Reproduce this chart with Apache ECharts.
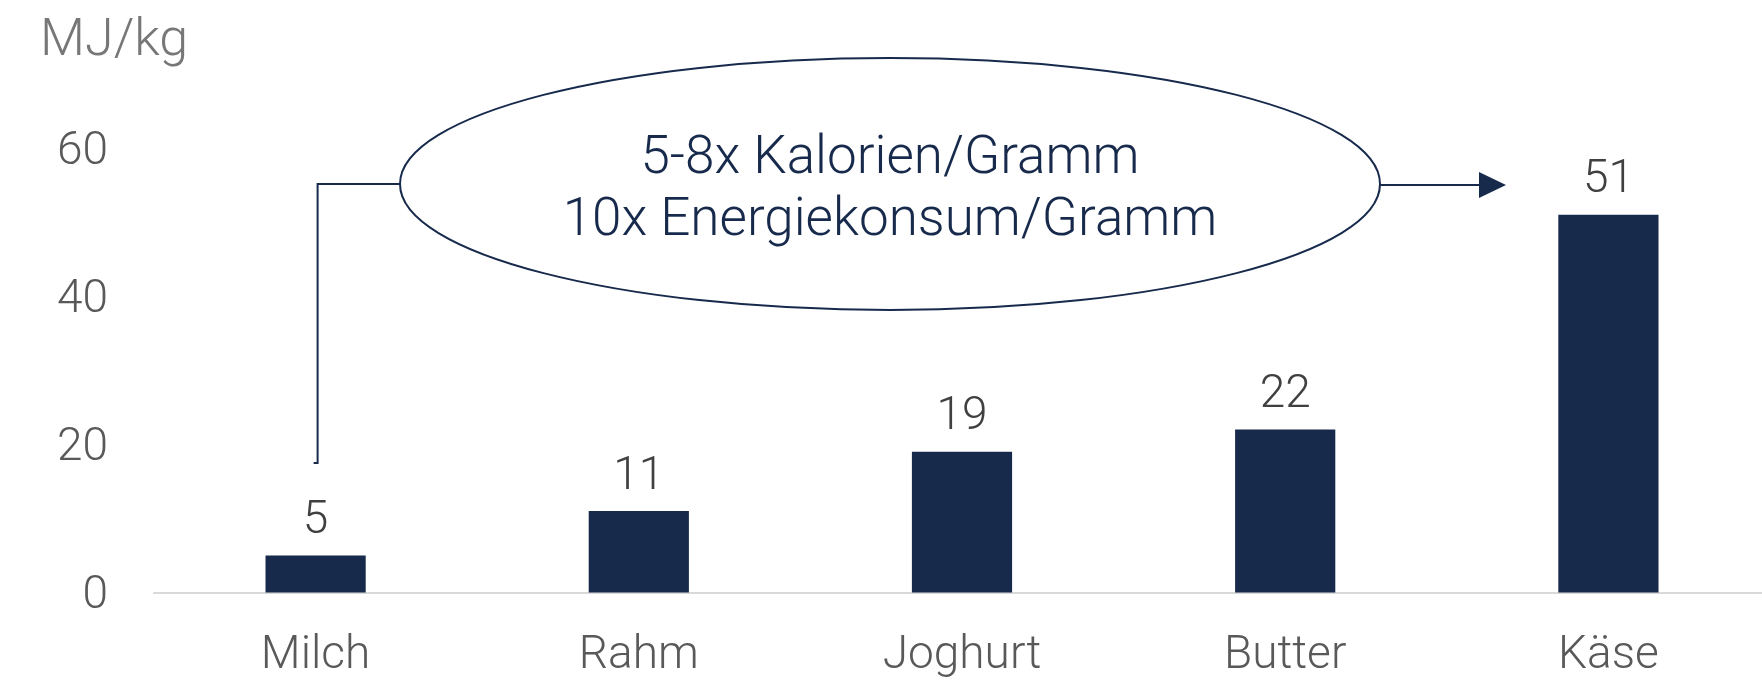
<!DOCTYPE html>
<html>
<head>
<meta charset="utf-8">
<script src="https://cdn.jsdelivr.net/npm/echarts@6/dist/echarts.min.js"></script>
<style>
  html, body { margin: 0; padding: 0; background: #fff; overflow: hidden; }
  #chart { width: 1770px; height: 681px; }
</style>
</head>
<body>
<div id="chart"></div>
<script>
// Energieverbrauch pro kg Milchprodukt
var categories = ['Milch', 'Rahm', 'Joghurt', 'Butter', 'Käse'];
var values = [5, 11, 19, 22, 51];
var yTicks = [0, 20, 40, 60];
var unitLabel = 'MJ/kg';
var noteLines = ['5-8x Kalorien/Gramm', '10x Energiekonsum/Gramm'];

var navy = '#172a4c';
var font = 'Roboto';

var myChart = echarts.init(document.getElementById('chart'));

var option = {
    animation: false,
    grid: { left: 154, right: 0, top: 148, bottom: 88.5 },
    xAxis: {
        type: 'category',
        data: categories,
        axisTick: { show: false },
        axisLine: { lineStyle: { color: '#d9d9d9', width: 2 } },
        axisLabel: { color: '#595959', fontSize: 46, fontFamily: font, fontWeight: 300, margin: 41 }
    },
    yAxis: {
        type: 'value',
        min: yTicks[0],
        max: yTicks[yTicks.length - 1],
        interval: 20,
        splitLine: { show: false },
        axisLine: { show: false },
        axisTick: { show: false },
        axisLabel: {
            margin: 46,
            formatter: '{v|{value}}',
            rich: {
                v: { color: '#595959', fontSize: 46, fontFamily: font, fontWeight: 300,
                     padding: [8, 0, 0, 0] }
            }
        }
    },
    series: [{
        type: 'bar',
        data: values,
        barWidth: '31%',
        itemStyle: { color: navy },
        label: {
            show: true,
            position: 'top',
            distance: 11,
            color: '#404040',
            fontSize: 46,
            fontFamily: font,
            fontWeight: 300
        }
    }]
};
myChart.setOption(option);

// annotation: ellipse with connector from Milch and arrow to Käse
var milchX = myChart.convertToPixel({ xAxisIndex: 0 }, categories[0]) + 2;
var ex = 890, ey = 184, rx = 490, ry = 126;
myChart.setOption({
    graphic: [
        {
            type: 'text', left: 40, top: 16,
            style: { text: unitLabel, fill: '#777777', fontSize: 52, fontFamily: font, fontWeight: 300 }
        },
        {
            type: 'ellipse',
            shape: { cx: ex, cy: ey, rx: rx, ry: ry },
            style: { fill: 'none', stroke: navy, lineWidth: 2 }
        },
        {
            type: 'text', x: ex, y: ey - 24,
            style: { text: noteLines[0], fill: navy, fontSize: 53, fontFamily: font, fontWeight: 300,
                     textAlign: 'center', textVerticalAlign: 'middle' }
        },
        {
            type: 'text', x: ex, y: ey + 38,
            style: { text: noteLines[1], fill: navy, fontSize: 53, fontFamily: font, fontWeight: 300,
                     textAlign: 'center', textVerticalAlign: 'middle' }
        },
        {
            type: 'polyline',
            shape: { points: [[ex - rx, ey], [milchX, ey], [milchX, 463], [milchX - 4, 463]] },
            style: { fill: 'none', stroke: navy, lineWidth: 2 }
        },
        {
            type: 'line',
            shape: { x1: ex + rx, y1: ey + 1, x2: 1482, y2: ey + 1 },
            style: { stroke: navy, lineWidth: 2 }
        },
        {
            type: 'polygon',
            shape: { points: [[1479, ey - 12], [1506, ey + 1], [1479, ey + 14]] },
            style: { fill: navy }
        }
    ]
});
</script>
</body>
</html>
